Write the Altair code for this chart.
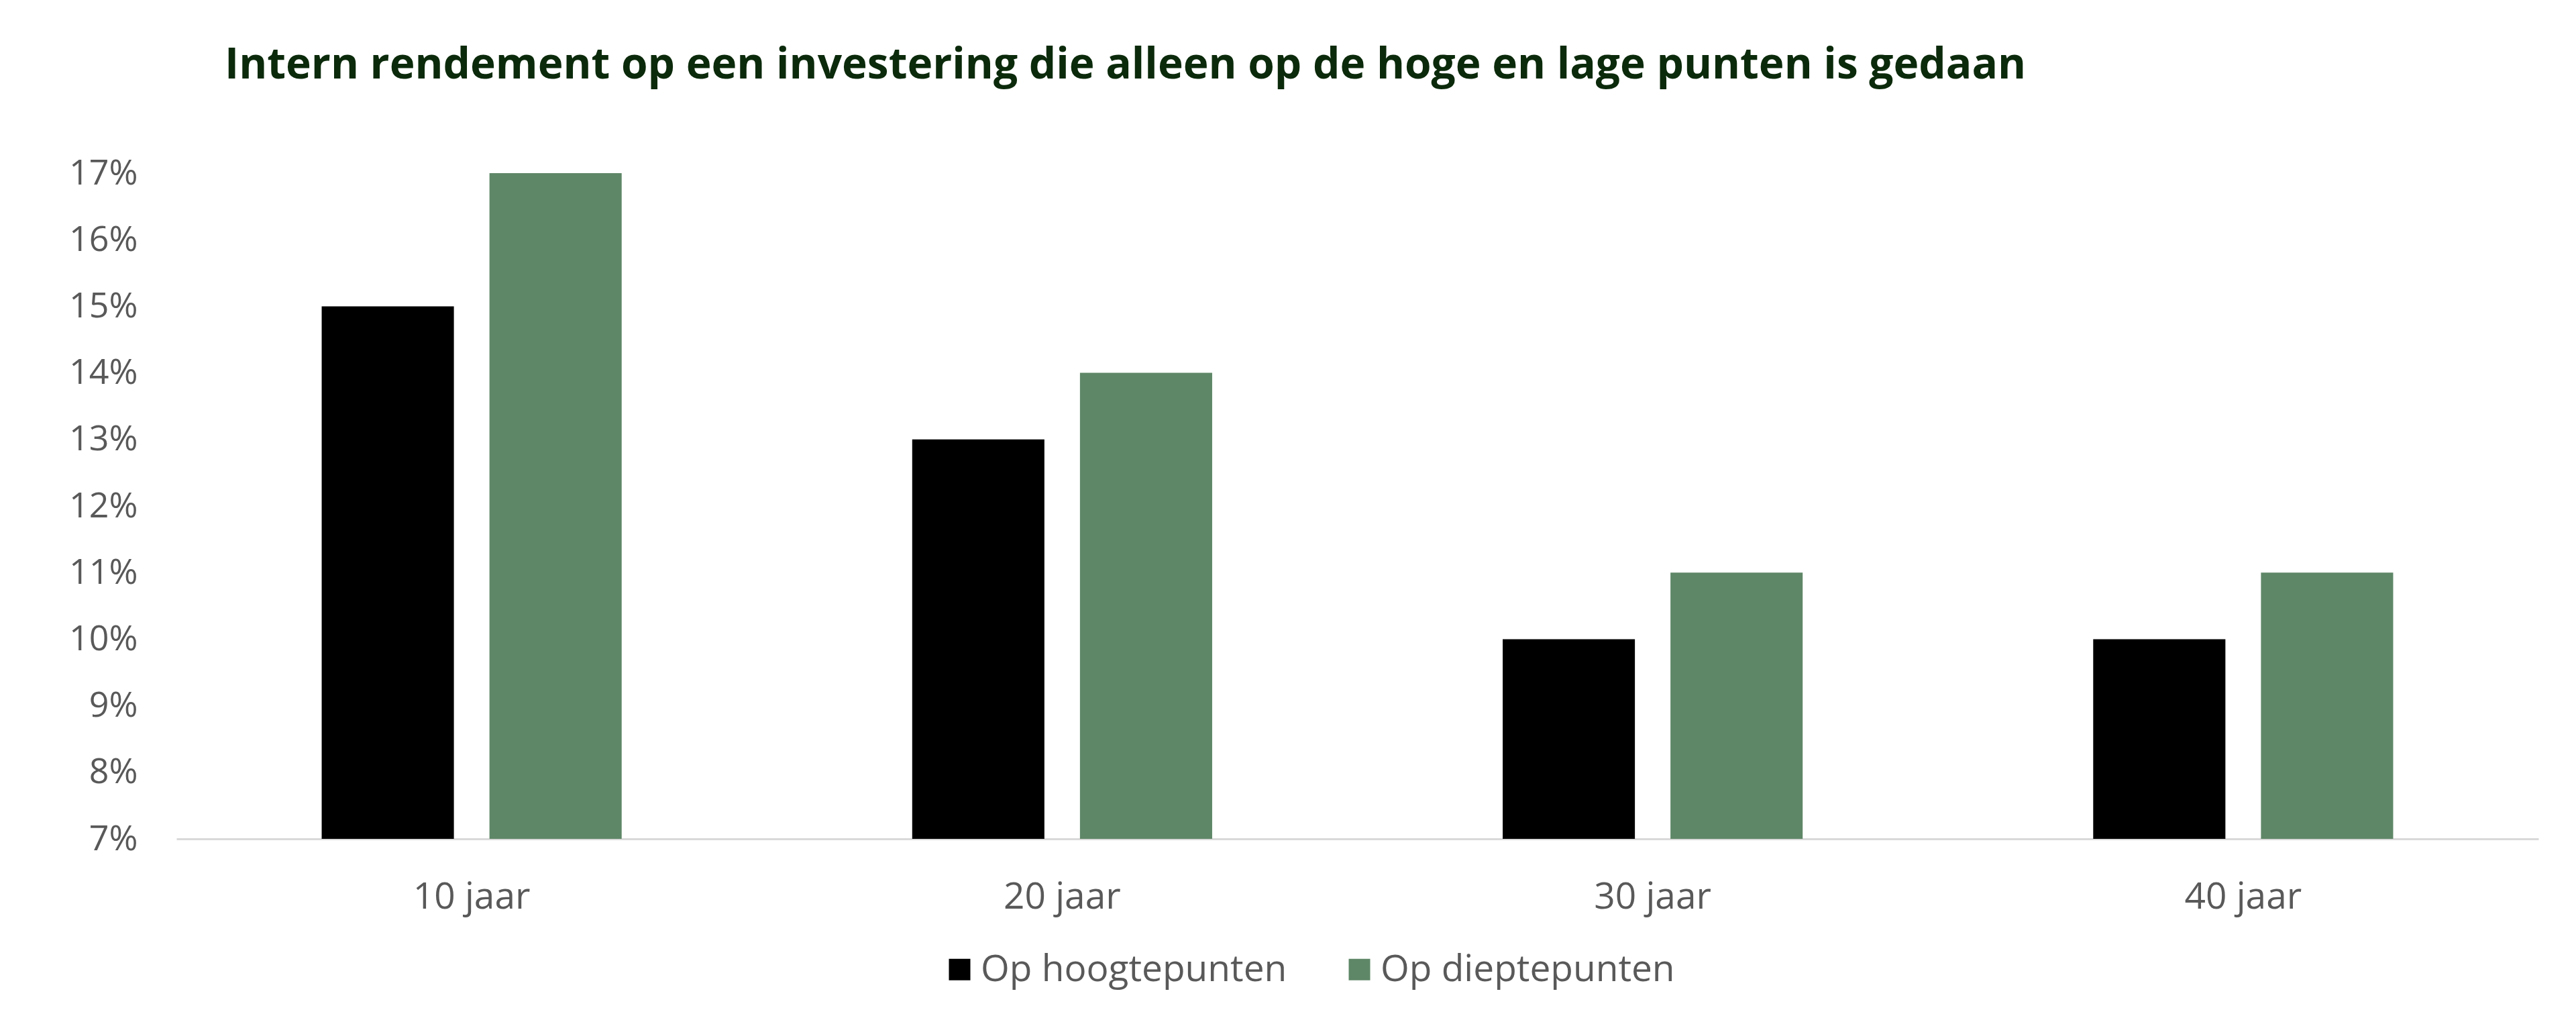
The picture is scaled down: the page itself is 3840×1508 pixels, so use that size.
import altair as alt
import pandas as pd

periods = ["10 jaar", "20 jaar", "30 jaar", "40 jaar"]
series = ["Op hoogtepunten", "Op dieptepunten"]
hoog = [0.15, 0.13, 0.10, 0.10]
diep = [0.17, 0.14, 0.11, 0.11]
y_ticks = [0.07, 0.08, 0.09, 0.10, 0.11, 0.12, 0.13, 0.14, 0.15, 0.16, 0.17]
colors = ["#000000", "#5E8767"]
title_text = "Intern rendement op een investering die alleen op de hoge en lage punten is gedaan"

rows = []
for p, h, d in zip(periods, hoog, diep):
    rows.append({"periode": p, "reeks": series[0], "waarde": h})
    rows.append({"periode": p, "reeks": series[1], "waarde": d})
df = pd.DataFrame(rows)

label_color = "#595959"
font = "Open Sans"

chart = alt.Chart(df).mark_bar().encode(
    x=alt.X(
        "periode:N",
        sort=periods,
        scale=alt.Scale(paddingInner=0.492, paddingOuter=0.246),
        axis=alt.Axis(
            title=None, labelAngle=0, ticks=False, grid=False,
            domainColor="#D9D9D9", domainWidth=3,
            labelFontSize=55, labelColor=label_color, labelFont=font,
            labelPadding=60,
        ),
    ),
    xOffset=alt.XOffset("reeks:N", sort=series, scale=alt.Scale(paddingInner=0.212)),
    y=alt.Y(
        "waarde:Q",
        scale=alt.Scale(domain=[0.07, 0.17], nice=False, zero=False),
        axis=alt.Axis(
            title=None, format=".0%", values=y_ticks, ticks=False, domain=False,
            grid=False, labelFontSize=52, labelColor=label_color, labelFont=font,
            labelPadding=58,
        ),
    ),
    y2=alt.datum(0.07),
    color=alt.Color(
        "reeks:N",
        sort=series,
        scale=alt.Scale(domain=series, range=colors),
        legend=alt.Legend(
            title=None, orient="none", direction="horizontal",
            legendX=1140, legendY=1159,
            symbolType="square", symbolSize=1024, symbolStrokeWidth=0,
            labelFontSize=55, labelColor=label_color, labelFont=font,
            labelOffset=4, columnPadding=80, padding=0, labelLimit=2000,
        ),
    ),
).properties(
    width=3521,
    height=992,
    title=alt.TitleParams(
        title_text, anchor="start", frame="group", fontSize=64, fontWeight="bold",
        color="#0B2A0B", font=font, dx=72, offset=102,
    ),
    autosize=alt.AutoSizeParams(type="none"),
    padding={"left": 255, "top": 250, "right": 40, "bottom": 240},
).configure(font=font).configure_view(strokeWidth=0)

chart.save("out.html", embed_options={"renderer": "svg", "actions": False})
